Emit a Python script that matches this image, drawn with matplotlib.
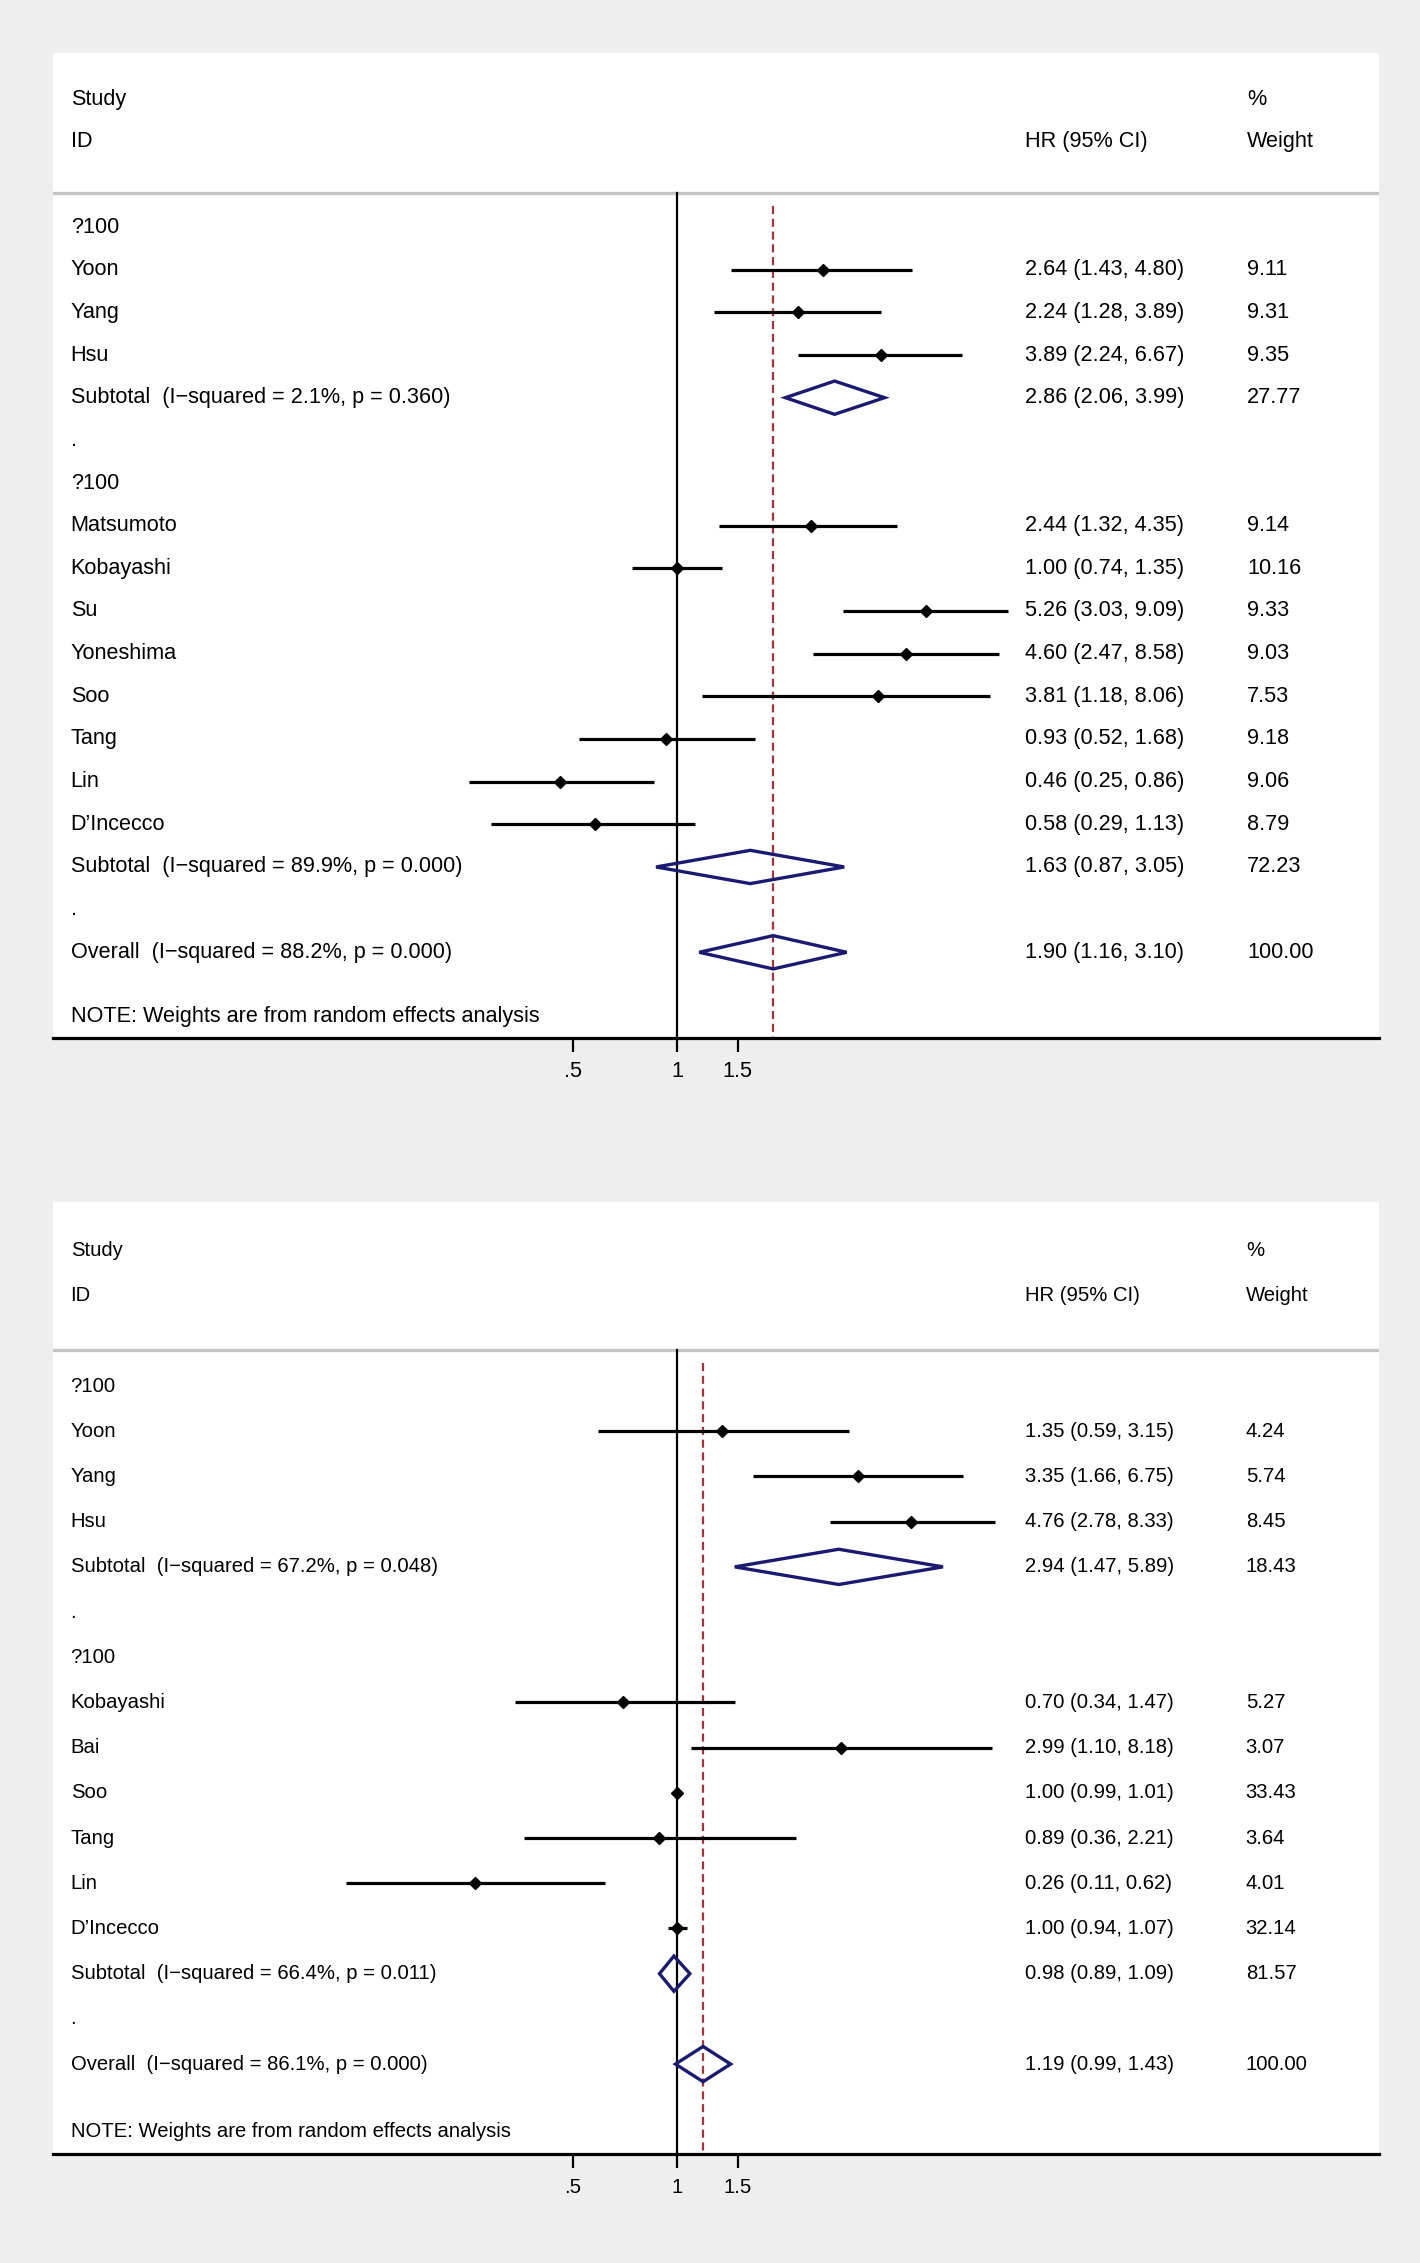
import numpy as np
import matplotlib
matplotlib.use("Agg")
import matplotlib.pyplot as plt
from matplotlib.patches import Polygon

plt.rcParams['font.family'] = ['Liberation Sans', 'DejaVu Sans']
plt.rcParams['lines.scale_dashes'] = False

nan = np.nan

# ---------------- Panel A data ----------------
labels_a = ["?100", "Yoon", "Yang", "Hsu",
            "Subtotal  (I\u2212squared = 2.1%, p = 0.360)", ".",
            "?100", "Matsumoto", "Kobayashi", "Su", "Yoneshima", "Soo", "Tang", "Lin",
            "D\u2019Incecco", "Subtotal  (I\u2212squared = 89.9%, p = 0.000)", ".",
            "Overall  (I\u2212squared = 88.2%, p = 0.000)"]
kind_a = ["h", "s", "s", "s", "d", "b", "h", "s", "s", "s", "s", "s", "s", "s", "s", "d", "b", "d"]
hr_a = [nan, 2.64, 2.24, 3.89, 2.86, nan, nan, 2.44, 1.00, 5.26, 4.60, 3.81, 0.93, 0.46, 0.58, 1.63, nan, 1.90]
lo_a = [nan, 1.43, 1.28, 2.24, 2.06, nan, nan, 1.32, 0.74, 3.03, 2.47, 1.18, 0.52, 0.25, 0.29, 0.87, nan, 1.16]
hi_a = [nan, 4.80, 3.89, 6.67, 3.99, nan, nan, 4.35, 1.35, 9.09, 8.58, 8.06, 1.68, 0.86, 1.13, 3.05, nan, 3.10]
wt_a = ["", "9.11", "9.31", "9.35", "27.77", "", "", "9.14", "10.16", "9.33", "9.03", "7.53",
        "9.18", "9.06", "8.79", "72.23", "", "100.00"]

# ---------------- Panel B data ----------------
labels_b = ["?100", "Yoon", "Yang", "Hsu",
            "Subtotal  (I\u2212squared = 67.2%, p = 0.048)", ".",
            "?100", "Kobayashi", "Bai", "Soo", "Tang", "Lin", "D\u2019Incecco",
            "Subtotal  (I\u2212squared = 66.4%, p = 0.011)", ".",
            "Overall  (I\u2212squared = 86.1%, p = 0.000)"]
kind_b = ["h", "s", "s", "s", "d", "b", "h", "s", "s", "s", "s", "s", "s", "d", "b", "d"]
hr_b = [nan, 1.35, 3.35, 4.76, 2.94, nan, nan, 0.70, 2.99, 1.00, 0.89, 0.26, 1.00, 0.98, nan, 1.19]
lo_b = [nan, 0.59, 1.66, 2.78, 1.47, nan, nan, 0.34, 1.10, 0.99, 0.36, 0.11, 0.94, 0.89, nan, 0.99]
hi_b = [nan, 3.15, 6.75, 8.33, 5.89, nan, nan, 1.47, 8.18, 1.01, 2.21, 0.62, 1.07, 1.09, nan, 1.43]
wt_b = ["", "4.24", "5.74", "8.45", "18.43", "", "", "5.27", "3.07", "33.43", "3.64", "4.01",
        "32.14", "81.57", "", "100.00"]

tick_vals = [0.5, 1, 1.5]
tick_labels = [".5", "1", "1.5"]

BG = "#EEEEEE"
NAVY = "#1A1A70"
RED = "#A3343C"

fig = plt.figure(figsize=(14.2, 22.63), dpi=100, facecolor=BG)


def panel(rect, labels, kinds, hr, lo, hi, wt, fs, wcol):
    ax = fig.add_axes(rect)
    ax.set_facecolor("white")
    n = len(labels)
    ax.set_xscale("log")
    ax.set_xlim(np.exp(-4.157), np.exp(4.677))
    ax.set_ylim(n + 1, -4.07)
    for s in ["top", "left", "right"]:
        ax.spines[s].set_visible(False)
    ax.spines["bottom"].set_linewidth(2.3)
    ax.set_yticks([])
    ax.set_xticks(tick_vals)
    ax.set_xticklabels(tick_labels)
    ax.xaxis.set_minor_locator(matplotlib.ticker.NullLocator())
    ax.tick_params(axis="x", direction="out", length=10, width=1.6, pad=7, labelsize=fs)

    tr = ax.get_yaxis_transform()
    # header
    ax.text(0.013, -3, "Study", transform=tr, fontsize=fs, va="center", ha="left")
    ax.text(0.013, -2, "ID", transform=tr, fontsize=fs, va="center", ha="left")
    ax.text(0.733, -2, "HR (95% CI)", transform=tr, fontsize=fs, va="center", ha="left")
    ax.text(wcol, -3, "%", transform=tr, fontsize=fs, va="center", ha="left")
    ax.text(wcol, -2, "Weight", transform=tr, fontsize=fs, va="center", ha="left")
    ax.axhline(-0.8, color="#C4C4C4", lw=2.4, zorder=1)

    overall = hr[-1]
    ax.plot([1, 1], [-0.8, n + 1], color="black", lw=1.6, zorder=2, clip_on=False)
    ax.plot([overall, overall], [-0.5, n + 1], color=RED, lw=1.6, dashes=(5.8, 3.4), zorder=2)

    for i, (lab, k) in enumerate(zip(labels, kinds)):
        ax.text(0.013, i, lab, transform=tr, fontsize=fs, va="center", ha="left")
        if k in ("s", "d"):
            ax.text(0.733, i, f"{hr[i]:.2f} ({lo[i]:.2f}, {hi[i]:.2f})", transform=tr,
                    fontsize=fs, va="center", ha="left")
            ax.text(wcol, i, wt[i], transform=tr, fontsize=fs, va="center", ha="left")
        if k == "s":
            ax.plot([lo[i], hi[i]], [i, i], color="black", lw=2.3, solid_capstyle="butt", zorder=3)
            ax.plot([hr[i]], [i], marker="D", color="black", ms=6, zorder=4)
        elif k == "d":
            h = 0.39
            poly = Polygon([(lo[i], i), (hr[i], i - h), (hi[i], i), (hr[i], i + h)],
                           closed=True, fill=False, edgecolor=NAVY, lw=2.4, zorder=4)
            ax.add_patch(poly)
    ax.text(0.013, n + 0.5, "NOTE: Weights are from random effects analysis", transform=tr,
            fontsize=fs, va="center", ha="left")
    return ax


panel([0.0376, 0.54149, 0.9332, 0.43491], labels_a, kind_a, hr_a, lo_a, hi_a, wt_a, 15.6, 0.901)
panel([0.0376, 0.04795, 0.9332, 0.42086], labels_b, kind_b, hr_b, lo_b, hi_b, wt_b, 14.6, 0.8998)

fig.savefig("out.png", dpi=100, facecolor=BG)
